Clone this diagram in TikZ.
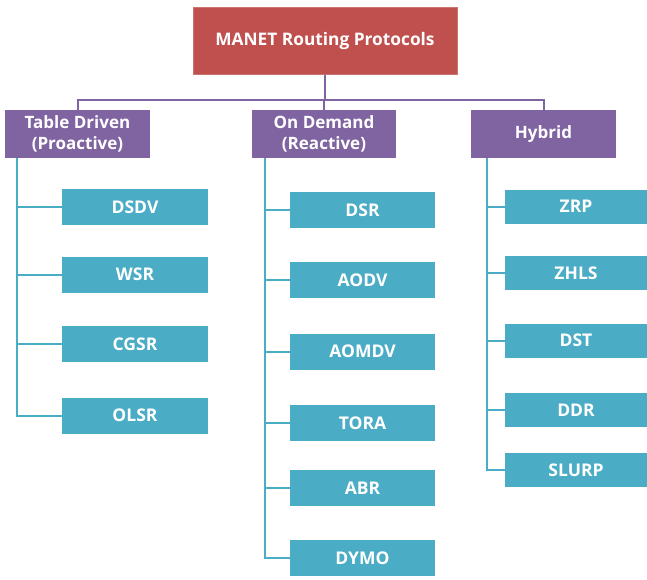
\documentclass[tikz,border=0pt]{standalone}
\usepackage{fontspec}
\setmainfont{Open Sans}
\definecolor{topred}{RGB}{192,80,77}
\definecolor{catpurple}{RGB}{128,100,162}
\definecolor{leafteal}{RGB}{75,172,198}
\tikzset{
	topbox/.style={fill=topred,draw=topred!80!white,text=white,font=\bfseries\fontsize{17.3}{20}\selectfont,minimum width=264pt,minimum height=67pt},
	catbox/.style={fill=catpurple,text=white,font=\bfseries\fontsize{17}{21}\selectfont,align=center,minimum width=145pt,minimum height=48pt,inner sep=0pt},
	leafbox/.style={fill=leafteal,text=white,font=\bfseries\fontsize{17.5}{20}\selectfont,minimum width=146pt,minimum height=36pt,inner sep=0pt},
	busline/.style={catpurple,line width=2pt},
	leafline/.style={leafteal,line width=2pt}
}
\begin{document}
\begin{tikzpicture}[x=1pt,y=-1pt]
		\useasboundingbox (0,0) rectangle (647,580);
		\node[topbox] (manet) at (325,41) {MANET Routing Protocols};
		\node[catbox] (table) at (77.5,134) {Table Driven\\(Proactive)};
		\node[catbox,minimum width=144pt] (demand) at (324,134) {On Demand\\(Reactive)};
		\node[catbox] (hybrid) at (543.5,134) {Hybrid};
		\coordinate (bus) at (0,100);
		% bus from the root to the three classes
		\draw[busline] (manet.south) -- (manet.south |- bus);
		\draw[busline] (table.north) -- (table.north |- bus) -- (hybrid.north |- bus) -- (hybrid.north);
		\draw[busline] (demand.north) -- (demand.north |- bus);
		% proactive
		\foreach \name/\y in {DSDV/207,WSR/274.5,CGSR/344,OLSR/415.5}
		{
			\node[leafbox] (\name) at (135,\y) {\name};
			\draw[leafline] ([xshift=12pt]table.south west) |- (\name.west);
		}
		% reactive
		\foreach \name/\y in {DSR/210,AODV/280,AOMDV/351.5,TORA/423,ABR/488,DYMO/558}
		{
			\node[leafbox,minimum width=145pt] (\name) at (362.5,\y) {\name};
			\draw[leafline] ([xshift=13pt]demand.south west) |- (\name.west);
		}
		% hybrid
		\foreach \name/\y in {ZRP/206.5,ZHLS/273,DST/340.5,DDR/410,SLURP/470}
		{
			\node[leafbox,minimum width=142pt,minimum height=34pt] (\name) at (576,\y) {\name};
			\draw[leafline] ([xshift=16pt]hybrid.south west) |- (\name.west);
		}
	\end{tikzpicture}
\end{document}
